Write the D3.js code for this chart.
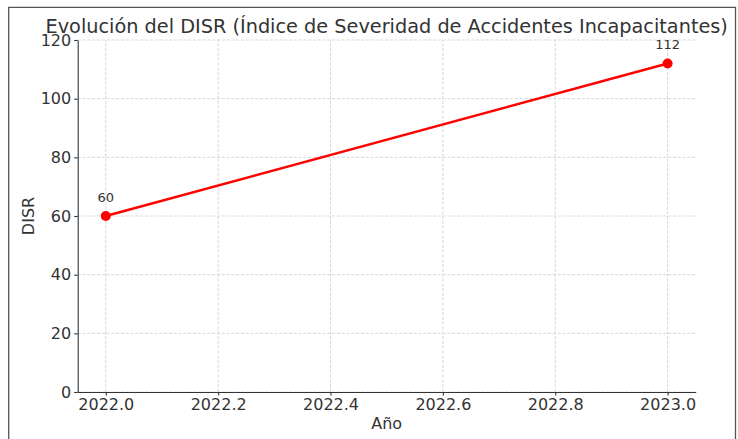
<!DOCTYPE html>
<html>
<head>
<meta charset="utf-8">
<script src="https://cdn.jsdelivr.net/npm/d3@7"></script>
<style>
  html, body { margin: 0; padding: 0; background: #fff; }
  svg { display: block; font-family: "DejaVu Sans", sans-serif; }
</style>
</head>
<body>
<svg id="chart" width="738" height="439"></svg>
<script>
// DISR yearly values
const years = [2022, 2023];
const disr = [60, 112];
const xTicks = [2022.0, 2022.2, 2022.4, 2022.6, 2022.8, 2023.0];
const yTicks = [0, 20, 40, 60, 80, 100, 120];

const svg = d3.select("#chart");
const W = 738, H = 439;
const margin = { left: 77.7, right: W - 695.7, top: 40, bottom: H - 392 };

// outer figure frame
svg.append("path")
  .attr("d", `M8.7,${H + 2} V7.3 H735.5 V${H + 2}`)
  .attr("fill", "none")
  .attr("stroke", "#555")
  .attr("stroke-width", 1.3);

// x domain padded 5% each side
const span = years[1] - years[0];
const x = d3.scaleLinear()
  .domain([years[0] - span * 0.05, years[1] + span * 0.05])
  .range([margin.left, W - margin.right]);
const y = d3.scaleLinear()
  .domain([0, 120])
  .range([H - margin.bottom, margin.top]);

const g = svg.append("g");

// grid
g.append("g").selectAll("line").data(xTicks).join("line")
  .attr("x1", d => x(d)).attr("x2", d => x(d))
  .attr("y1", y(0)).attr("y2", y(120))
  .attr("stroke", "#d4d4d4").attr("stroke-width", 0.9)
  .attr("stroke-dasharray", "3.2,1.6");
g.append("g").selectAll("line").data(yTicks).join("line")
  .attr("x1", x.range()[0]).attr("x2", x.range()[1])
  .attr("y1", d => y(d)).attr("y2", d => y(d))
  .attr("stroke", "#d4d4d4").attr("stroke-width", 0.9)
  .attr("stroke-dasharray", "3.2,1.6");

// axes
const xAxis = d3.axisBottom(x).tickValues(xTicks).tickFormat(d3.format(".1f"))
  .tickSizeInner(3.5).tickSizeOuter(0).tickPadding(3);
const yAxis = d3.axisLeft(y).tickValues(yTicks).tickFormat(d3.format("d"))
  .tickSizeInner(3.5).tickSizeOuter(0).tickPadding(3);

const gx = g.append("g").attr("transform", `translate(0,${y(0)})`).call(xAxis);
const gy = g.append("g").attr("transform", `translate(${x.range()[0]},0)`).call(yAxis);
[gx, gy].forEach(a => {
  a.select(".domain").attr("stroke", "#333").attr("stroke-width", 1.1);
  a.selectAll(".tick line").attr("stroke", "#333").attr("stroke-width", 1.1);
  a.selectAll(".tick text").attr("fill", "#333")
    .style("font-family", "DejaVu Sans").style("font-size", "16px");
});

// line + markers
const line = d3.line().x((d, i) => x(years[i])).y(d => y(d));
g.append("path").datum(disr)
  .attr("d", line)
  .attr("fill", "none")
  .attr("stroke", "#ff0000")
  .attr("stroke-width", 2.4);
g.selectAll("circle.pt").data(disr).join("circle")
  .attr("class", "pt")
  .attr("cx", (d, i) => x(years[i]))
  .attr("cy", d => y(d))
  .attr("r", 5)
  .attr("fill", "#ff0000");

// value labels
g.selectAll("text.val").data(disr).join("text")
  .attr("class", "val")
  .attr("x", (d, i) => x(years[i]))
  .attr("y", d => y(d) - 14)
  .attr("text-anchor", "middle")
  .attr("fill", "#333")
  .style("font-size", "13px")
  .text(d => d);

// title and axis labels
svg.append("text")
  .attr("x", (x.range()[0] + x.range()[1]) / 2)
  .attr("y", 32.5)
  .attr("text-anchor", "middle")
  .attr("fill", "#333")
  .style("font-size", "19.3px")
  .text("Evolución del DISR (Índice de Severidad de Accidentes Incapacitantes)");

svg.append("text")
  .attr("x", (x.range()[0] + x.range()[1]) / 2)
  .attr("y", 428.5)
  .attr("text-anchor", "middle")
  .attr("fill", "#333")
  .style("font-size", "16px")
  .text("Año");

svg.append("text")
  .attr("transform", `translate(33.5,${(y(0) + y(120)) / 2}) rotate(-90)`)
  .attr("text-anchor", "middle")
  .attr("fill", "#333")
  .style("font-size", "16px")
  .text("DISR");
</script>
</body>
</html>
